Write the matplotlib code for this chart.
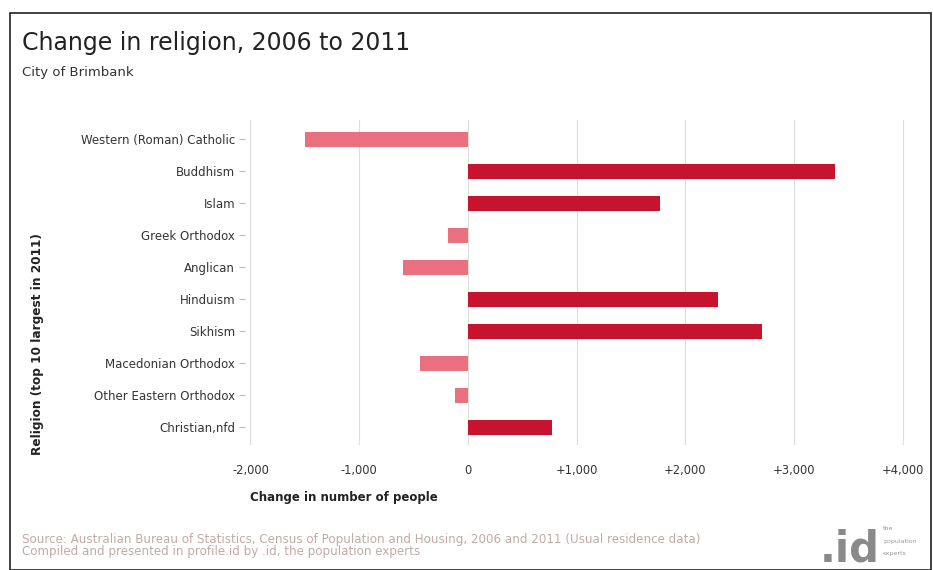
import matplotlib
matplotlib.use("Agg")
import matplotlib.pyplot as plt
from matplotlib.patches import Rectangle

plt.rcParams['font.family'] = ['DejaVu Sans']

religions = ["Western (Roman) Catholic", "Buddhism", "Islam", "Greek Orthodox",
             "Anglican", "Hinduism", "Sikhism", "Macedonian Orthodox",
             "Other Eastern Orthodox", "Christian,nfd"]
changes = [-1500, 3375, 1765, -185, -600, 2300, 2700, -440, -115, 770]
xticks = [-2000, -1000, 0, 1000, 2000, 3000, 4000]
xticklabels = ["-2,000", "-1,000", "0", "+1,000", "+2,000", "+3,000", "+4,000"]

pos_color = "#C8132F"
neg_color = "#E9707F"

W, H = 933, 570
fig = plt.figure(figsize=(W / 100, H / 100), dpi=100)
fig.patch.set_facecolor("white")

# outer frame
fig.patches.append(Rectangle((10 / W, 0), (931 - 10) / W, (H - 13) / H,
                             transform=fig.transFigure, fill=False,
                             edgecolor="#222222", linewidth=1.2))

ax = fig.add_axes([245 / W, (H - 445) / H, (918 - 245) / W, (445 - 120) / H])
ypos = list(range(len(religions)))
colors = [pos_color if v >= 0 else neg_color for v in changes]
ax.barh(ypos, changes, height=0.48, color=colors, zorder=3)
ax.set_ylim(len(religions) - 0.45, -0.6)
ax.set_xlim(-2050, 4138)
ax.set_xticks(xticks)
ax.set_xticklabels(xticklabels, fontsize=8.3, color="#333333")
ax.set_yticks(ypos)
ax.set_yticklabels(religions, fontsize=8.5, color="#333333")
ax.tick_params(axis='y', length=4, color="#bbbbbb", pad=3)
ax.tick_params(axis='x', length=0, pad=14)
ax.grid(axis='x', color="#dddddd", linewidth=0.8, zorder=0)
for s in ["top", "right", "bottom", "left"]:
    ax.spines[s].set_visible(False)

fig.text(22 / W, 1 - 50 / H, "Change in religion, 2006 to 2011", fontsize=17,
         color="#222222", va="baseline", ha="left")
fig.text(22 / W, 1 - 76 / H, "City of Brimbank", fontsize=9.5,
         color="#333333", va="baseline", ha="left")

fig.text(250 / W, 1 - 497 / H, "Change in number of people", fontsize=8.5,
         fontweight="bold", color="#222222", va="center", ha="left")
fig.text(38 / W, 1 - 455 / H, "Religion (top 10 largest in 2011)", fontsize=8.7,
         fontweight="bold", color="#222222", va="bottom", ha="center",
         rotation=90)

fig.text(22 / W, 1 - 539 / H,
         "Source: Australian Bureau of Statistics, Census of Population and Housing, 2006 and 2011 (Usual residence data)",
         fontsize=8.6, color="#c2aaaa", va="center", ha="left")
fig.text(22 / W, 1 - 552 / H,
         "Compiled and presented in profile.id by .id, the population experts",
         fontsize=8.6, color="#c2aaaa", va="center", ha="left")

# logo
fig.text(880 / W, 1 - 562 / H, ".id", fontsize=30, fontweight="bold",
         color="#8a8a8a", va="baseline", ha="right")
fig.text(883 / W, 1 - 529 / H, "the", fontsize=4.5, color="#999999", ha="left", va="center")
fig.text(883 / W, 1 - 541 / H, "population", fontsize=4.5, color="#999999", ha="left", va="center")
fig.text(883 / W, 1 - 553 / H, "experts", fontsize=4.5, color="#999999", ha="left", va="center")

fig.savefig("out.png", dpi=100, facecolor="white")
